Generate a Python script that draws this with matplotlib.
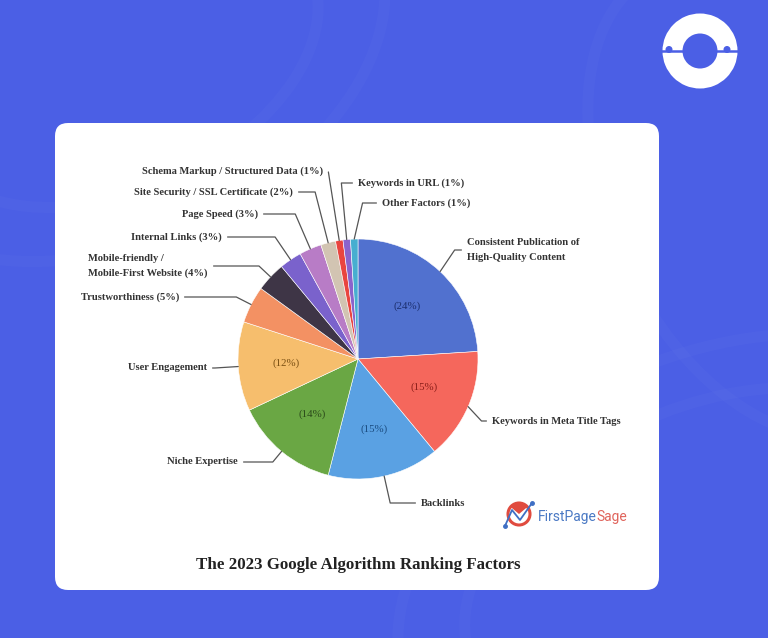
import numpy as np
import matplotlib.pyplot as plt
from matplotlib.patches import FancyBboxPatch, Wedge, Circle, Ellipse

# data
factors = ["Consistent Publication of\nHigh-Quality Content",
           "Keywords in Meta Title Tags",
           "Backlinks",
           "Niche Expertise",
           "User Engagement",
           "Trustworthiness (5%)",
           "Mobile-friendly /\nMobile-First Website (4%)",
           "Internal Links (3%)",
           "Page Speed (3%)",
           "Site Security / SSL Certificate (2%)",
           "Schema Markup / Structured Data (1%)",
           "Keywords in URL (1%)",
           "Other Factors (1%)"]
shares = [24, 15, 15, 14, 12, 5, 4, 3, 3, 2, 1, 1, 1]
colors = ["#5171cf", "#f5675c", "#5aa1e3", "#6aa744", "#f6be6d", "#f39163",
          "#3e3546", "#7a62cc", "#b87cc6", "#d2c4b2", "#e9453f", "#8b63cb", "#47aed0"]
pct_colors = ["#1c2f6e", "#8a1f1a", "#1b4c80", "#2c4a1b", "#7a4f12"]

# layout in pixels (y measured from top), label anchor + horizontal alignment
label_pos = [(467, 250, 'left'), (492, 421, 'left'), (421, 503, 'left'),
             (238, 462, 'right'), (207, 368, 'right'), (179, 297, 'right'),
             (208, 266, 'right'), (222, 237, 'right'), (258, 214, 'right'),
             (293, 192, 'right'), (323, 171, 'right'), (358, 183, 'left'),
             (382, 203, 'left')]
elbow_angle = {0: 56, 1: -47, 12: 77}

W, H = 768, 638
BG = "#4b5fe5"
SERIF = "Liberation Serif"


def Y(y):
    return H - y


fig = plt.figure(figsize=(W / 100, H / 100), dpi=100)
fig.patch.set_facecolor(BG)
ax = fig.add_axes([0, 0, 1, 1])
ax.set_facecolor(BG)

# faint background waves
for cx0, cy0, w, h in [(120, 60, 420, 260), (120, 60, 560, 360), (700, 560, 500, 300),
                       (700, 560, 640, 400), (760, 200, 300, 500)]:
    ax.add_patch(Ellipse((cx0, Y(cy0)), w, h, angle=25, fill=False, ec="white", lw=8, alpha=0.018))

# card
ax.add_patch(FancyBboxPatch((55, Y(590)), 604, 467, boxstyle="round,pad=0,rounding_size=13",
                            fc="white", ec="none"))

# logo top right
ax.add_patch(Wedge((700, Y(51)), 37.5, 0, 360, width=20, fc="white", ec="none"))
ax.plot([660, 740], [Y(51), Y(51)], color=BG, lw=1.8, solid_capstyle='butt')
for bx in (671, 729):
    ax.add_patch(Circle((bx - 2, Y(49.5)), 3.5, fc=BG, ec="none"))
    ax.add_patch(Circle((bx + 5, Y(52.5)), 3, fc="white", ec="none"))

# pie
cx, cy, r = 358, Y(359), 120
wedges, _, autotexts = ax.pie(
    shares, colors=colors, startangle=90, counterclock=False,
    center=(cx, cy), radius=r,
    wedgeprops=dict(edgecolor="white", linewidth=0.4),
    autopct=lambda p: f"({p:.0f}%)" if p >= 10 else "", pctdistance=0.6,
    textprops=dict(fontsize=7.8, family=SERIF))
for t, c in zip(autotexts, pct_colors):
    t.set_color(c)

for i, (w, txt) in enumerate(zip(wedges, factors)):
    mid = (w.theta1 + w.theta2) / 2
    px = cx + r * np.cos(np.deg2rad(mid))
    py = cy + r * np.sin(np.deg2rad(mid))
    tx, ty, ha = label_pos[i]
    ang = elbow_angle.get(i, mid)
    ax.annotate(txt, xy=(px, py), xytext=(tx, Y(ty)), ha=ha, va="center",
                multialignment="left", linespacing=1.85,
                fontsize=7.6, fontweight="bold", family=SERIF, color="#333333",
                arrowprops=dict(arrowstyle="-", color="#555555", lw=0.9,
                                shrinkA=2, shrinkB=0,
                                connectionstyle=f"angle,angleA=0,angleB={ang}"))

# FirstPageSage mark
ax.add_patch(Circle((519, Y(514)), 11, fc="none", ec="#e04b3f", lw=2.2))
ax.add_patch(Wedge((519, Y(514)), 11, 40, 140, fc="#e04b3f", ec="none"))
ax.plot([505, 512, 520, 532], [Y(526), Y(510), Y(520), Y(503)], color="#3f6fc4", lw=1.3)
ax.plot([505, 532], [Y(526), Y(503)], 'o', color="#3f6fc4", ms=2.5, lw=0)
t1 = ax.text(538, Y(517), "FirstPage", fontsize=10, family="Roboto", color="#4a79c4",
             ha="left", va="center")
ax.annotate("Sage", xy=(1, 0), xycoords=t1, ha="left", va="bottom",
            fontsize=10, family="Roboto", color="#e0645c")

# title
ax.text(358, Y(565), "The 2023 Google Algorithm Ranking Factors", ha="center", va="center",
        fontsize=12.2, fontweight="bold", family=SERIF, color="#222222")

ax.set_xlim(0, W)
ax.set_ylim(0, H)
ax.set_aspect("equal")
ax.axis("off")

fig.savefig("out.png", dpi=100, facecolor=BG)
